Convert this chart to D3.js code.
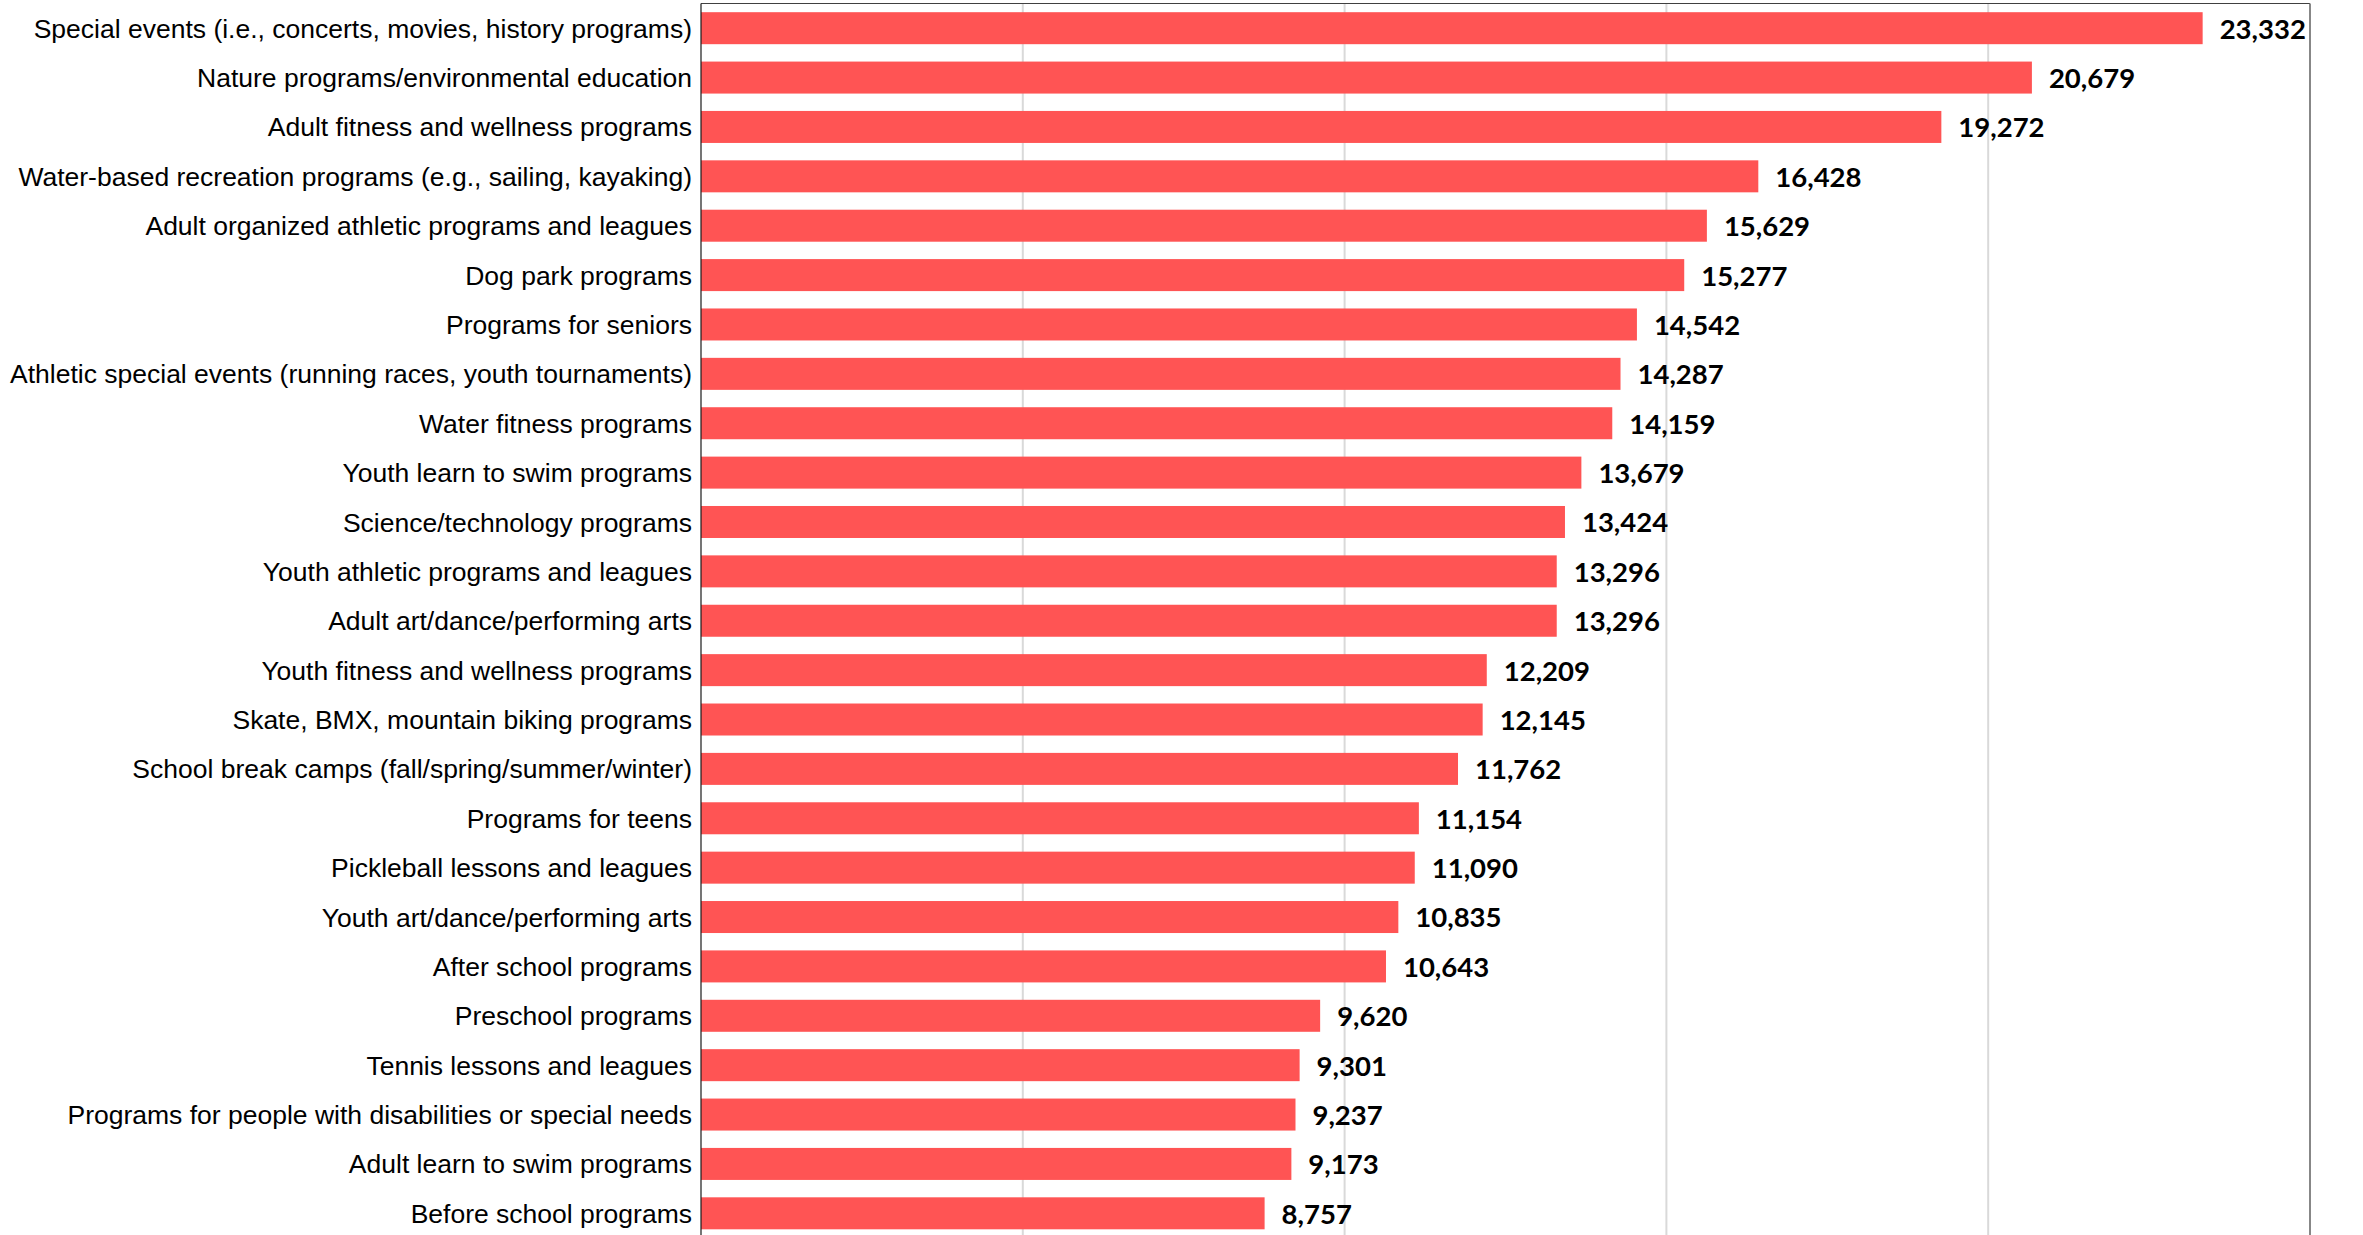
<!DOCTYPE html>
<html>
<head>
<meta charset="utf-8">
<script src="https://cdn.jsdelivr.net/npm/d3@7"></script>
<style>
  html, body { margin: 0; padding: 0; background: #ffffff; }
  svg { display: block; }
</style>
</head>
<body>
<svg id="chart" width="2363" height="1235"></svg>
<script>
const categories = [
  "Special events (i.e., concerts, movies, history programs)",
  "Nature programs/environmental education",
  "Adult fitness and wellness programs",
  "Water-based recreation programs (e.g., sailing, kayaking)",
  "Adult organized athletic programs and leagues",
  "Dog park programs",
  "Programs for seniors",
  "Athletic special events (running races, youth tournaments)",
  "Water fitness programs",
  "Youth learn to swim programs",
  "Science/technology programs",
  "Youth athletic programs and leagues",
  "Adult art/dance/performing arts",
  "Youth fitness and wellness programs",
  "Skate, BMX, mountain biking programs",
  "School break camps (fall/spring/summer/winter)",
  "Programs for teens",
  "Pickleball lessons and leagues",
  "Youth art/dance/performing arts",
  "After school programs",
  "Preschool programs",
  "Tennis lessons and leagues",
  "Programs for people with disabilities or special needs",
  "Adult learn to swim programs",
  "Before school programs"
];
const values = [
  23332, 20679, 19272, 16428, 15629, 15277, 14542, 14287, 14159, 13679,
  13424, 13296, 13296, 12209, 12145, 11762, 11154, 11090, 10835, 10643,
  9620, 9301, 9237, 9173, 8757
];
const gridTicks = [0, 5000, 10000, 15000, 20000, 25000];

(function () {
  const data = categories.map((c, i) => ({ category: c, value: values[i] }));

  const svg = d3.select("#chart");
  const mLeft = 701, mRight = 2310, mTop = 3.5, mBottom = 1238;

  const x = d3.scaleLinear().domain([0, 25000]).range([mLeft, mRight]);
  const y = d3.scaleBand().domain(categories).range([mTop, mBottom])
    .paddingInner(0.352).paddingOuter(0.176);

  // gridlines
  svg.append("g").selectAll("line").data(gridTicks.slice(1, -1)).join("line")
    .attr("x1", d => x(d)).attr("x2", d => x(d))
    .attr("y1", mTop).attr("y2", 1235)
    .attr("stroke", "#d9d9d9").attr("stroke-width", 2);

  // plot border (top & right)
  svg.append("line").attr("x1", mLeft).attr("x2", mRight).attr("y1", mTop).attr("y2", mTop)
    .attr("stroke", "#404040").attr("stroke-width", 1.2);
  svg.append("line").attr("x1", mRight).attr("x2", mRight).attr("y1", mTop).attr("y2", 1235)
    .attr("stroke", "#7a7a7a").attr("stroke-width", 1.8);

  // bars
  svg.append("g").selectAll("rect").data(data).join("rect")
    .attr("x", x(0))
    .attr("y", d => y(d.category))
    .attr("width", d => x(d.value) - x(0))
    .attr("height", y.bandwidth())
    .attr("fill", "#ff5454");

  // left axis line
  svg.append("line").attr("x1", mLeft).attr("x2", mLeft).attr("y1", mTop).attr("y2", 1235)
    .attr("stroke", "#1a1a1a").attr("stroke-width", 1.2);

  // category labels
  svg.append("g").selectAll("text").data(data).join("text")
    .attr("x", mLeft - 9)
    .attr("y", d => y(d.category) + y.bandwidth() / 2)
    .attr("dy", "0.36em")
    .attr("text-anchor", "end")
    .attr("font-family", "'Liberation Sans', Arial, sans-serif")
    .attr("font-size", "26.5px")
    .attr("fill", "#000")
    .text(d => d.category);

  // value labels
  const fmt = d3.format(",");
  svg.append("g").selectAll("text").data(data).join("text")
    .attr("x", d => x(d.value) + 17)
    .attr("y", d => y(d.category) + y.bandwidth() / 2)
    .attr("dy", "0.38em")
    .attr("font-family", "Lato, 'Open Sans', sans-serif")
    .attr("font-weight", "bold")
    .attr("font-size", "27.5px")
    .attr("fill", "#000")
    .text(d => fmt(d.value));
})();
</script>
</body>
</html>
